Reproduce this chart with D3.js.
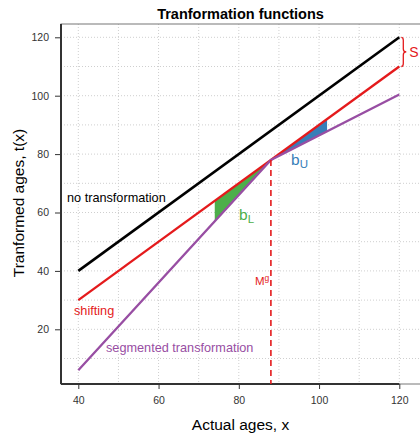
<!DOCTYPE html>
<html>
<head>
<meta charset="utf-8">
<script src="https://cdn.jsdelivr.net/npm/d3@7"></script>
<style>
  body { margin: 0; background: #fff; }
  svg { font-family: "Liberation Sans", Arial, sans-serif; }
</style>
</head>
<body>
<svg id="svg" width="420" height="433"></svg>
<script>
// data
var xTicks = [40, 60, 80, 100, 120];
var yTicks = [20, 40, 60, 80, 100, 120];
var gridX = [40, 50, 60, 70, 80, 90, 100, 110, 120];
var gridY = [10, 20, 30, 40, 50, 60, 70, 80, 90, 100, 110, 120];

var noTrans = [[40, 40], [120, 120]];
var shifting = [[40, 30], [120, 110]];
var segmented = [[40, 6], [88, 78], [120, 100.4]];
var wedgeL = [[74, 64], [74, 57], [88, 78]];
var wedgeU = [[88, 78], [102, 92], [102, 87.8]];
var Mg = 88;
var shiftTop = 120, shiftBottom = 110;

var svg = d3.select("#svg");

var box = { left: 61, right: 421, top: 24, bottom: 384 };
var x = d3.scaleLinear().domain([40, 120]).range([78.3, 399.3]);
var y = d3.scaleLinear().domain([0, 120]).range([387.7, 37.3]);

var red = "#E41A1C", purple = "#984EA3", green = "#4DAF4A", blue = "#377EB8";

// grid
svg.selectAll("line.gx").data(gridX).enter().append("line")
    .attr("x1", function(d) { return x(d); }).attr("x2", function(d) { return x(d); })
    .attr("y1", box.top).attr("y2", box.bottom)
    .attr("stroke", "#cfcfcf").attr("stroke-dasharray", "1,2");
svg.selectAll("line.gy").data(gridY).enter().append("line")
    .attr("y1", function(d) { return y(d); }).attr("y2", function(d) { return y(d); })
    .attr("x1", box.left).attr("x2", box.right)
    .attr("stroke", "#cfcfcf").attr("stroke-dasharray", "1,2");

// box
svg.append("rect")
    .attr("x", box.left).attr("y", box.top)
    .attr("width", box.right - box.left).attr("height", box.bottom - box.top)
    .attr("fill", "none").attr("stroke", "#777");

// axes
var xAxis = d3.axisBottom(x).tickValues(xTicks).tickSize(5).tickPadding(8);
var gx = svg.append("g").attr("transform", "translate(0," + box.bottom + ")").call(xAxis);
var yAxis = d3.axisLeft(y).tickValues(yTicks).tickSize(6).tickPadding(6);
var gy = svg.append("g").attr("transform", "translate(" + box.left + ",0)").call(yAxis);
[gx, gy].forEach(function(g) {
    g.select(".domain").remove();
    g.selectAll("line").attr("stroke", "#333");
    g.selectAll("text").attr("font-size", 10.5).attr("fill", "#333")
      .attr("font-family", "Liberation Sans, Arial, sans-serif");
});
svg.append("line").attr("x1", box.left).attr("x2", x(120))
    .attr("y1", box.bottom).attr("y2", box.bottom).attr("stroke", "#333").attr("stroke-width", 2);
svg.append("line").attr("x1", box.left).attr("x2", box.left)
    .attr("y1", box.top).attr("y2", box.bottom).attr("stroke", "#333").attr("stroke-width", 2);

var line = d3.line().x(function(d) { return x(d[0]); }).y(function(d) { return y(d[1]); });

// wedges
svg.append("path").datum(wedgeL).attr("d", function(d) { return line(d) + "Z"; }).attr("fill", green);
svg.append("path").datum(wedgeU).attr("d", function(d) { return line(d) + "Z"; }).attr("fill", blue);

// lines
svg.append("path").datum(noTrans).attr("d", line).attr("stroke", "black").attr("stroke-width", 2.6).attr("fill", "none");
svg.append("path").datum(shifting).attr("d", line).attr("stroke", red).attr("stroke-width", 2.3).attr("fill", "none");
svg.append("path").datum(segmented).attr("d", line).attr("stroke", purple).attr("stroke-width", 2.3).attr("fill", "none");

// breakpoint
svg.append("line")
    .attr("x1", x(Mg)).attr("x2", x(Mg))
    .attr("y1", y(segmented[1][1])).attr("y2", box.bottom)
    .attr("stroke", red).attr("stroke-width", 1.6).attr("stroke-dasharray", "6,4");

// shift brace
var bx = x(120) + 4, y1 = y(shiftTop), y2 = y(shiftBottom), ym = (y1 + y2) / 2;
svg.append("path")
    .attr("d", "M" + (bx - 2) + "," + y1 + " Q" + bx + "," + y1 + " " + bx + "," + (y1 + 3) +
          " L" + bx + "," + (ym - 3) + " Q" + bx + "," + ym + " " + (bx + 3) + "," + ym +
          " Q" + bx + "," + ym + " " + bx + "," + (ym + 3) +
          " L" + bx + "," + (y2 - 3) + " Q" + bx + "," + y2 + " " + (bx - 2) + "," + y2)
    .attr("fill", "none").attr("stroke", red).attr("stroke-width", 1.3);
svg.append("text").attr("x", bx + 6).attr("y", ym + 5).attr("font-size", 14).attr("fill", red).text("S");

// labels
svg.append("text").attr("x", 67).attr("y", 202).attr("font-size", 12.7).attr("fill", "black").text("no transformation");
svg.append("text").attr("x", 74).attr("y", 315).attr("font-size", 12.7).attr("fill", red).text("shifting");
svg.append("text").attr("x", 106).attr("y", 352).attr("font-size", 12.7).attr("fill", purple).text("segmented transformation");

var tL = svg.append("text").attr("x", 239).attr("y", 220).attr("font-size", 15.5).attr("fill", green);
tL.append("tspan").text("b");
tL.append("tspan").attr("font-size", 11.5).attr("dy", 3).text("L");
var tU = svg.append("text").attr("x", 291).attr("y", 165).attr("font-size", 15.5).attr("fill", blue);
tU.append("tspan").text("b");
tU.append("tspan").attr("font-size", 11.5).attr("dy", 3).text("U");
var tM = svg.append("text").attr("x", 255).attr("y", 285).attr("font-size", 11.5).attr("fill", red);
tM.append("tspan").text("M");
tM.append("tspan").attr("font-size", 8.5).attr("dy", -4).text("g");

// titles
svg.append("text").attr("x", 240.5).attr("y", 19).attr("text-anchor", "middle")
    .attr("font-size", 14.5).attr("font-weight", "bold").text("Tranformation functions");
svg.append("text").attr("x", 240.5).attr("y", 430).attr("text-anchor", "middle")
    .attr("font-size", 15.5).text("Actual ages, x");
svg.append("text").attr("transform", "translate(24,203) rotate(-90)").attr("text-anchor", "middle")
    .attr("font-size", 15.5).text("Tranformed ages, t(x)");
</script>
</body>
</html>
